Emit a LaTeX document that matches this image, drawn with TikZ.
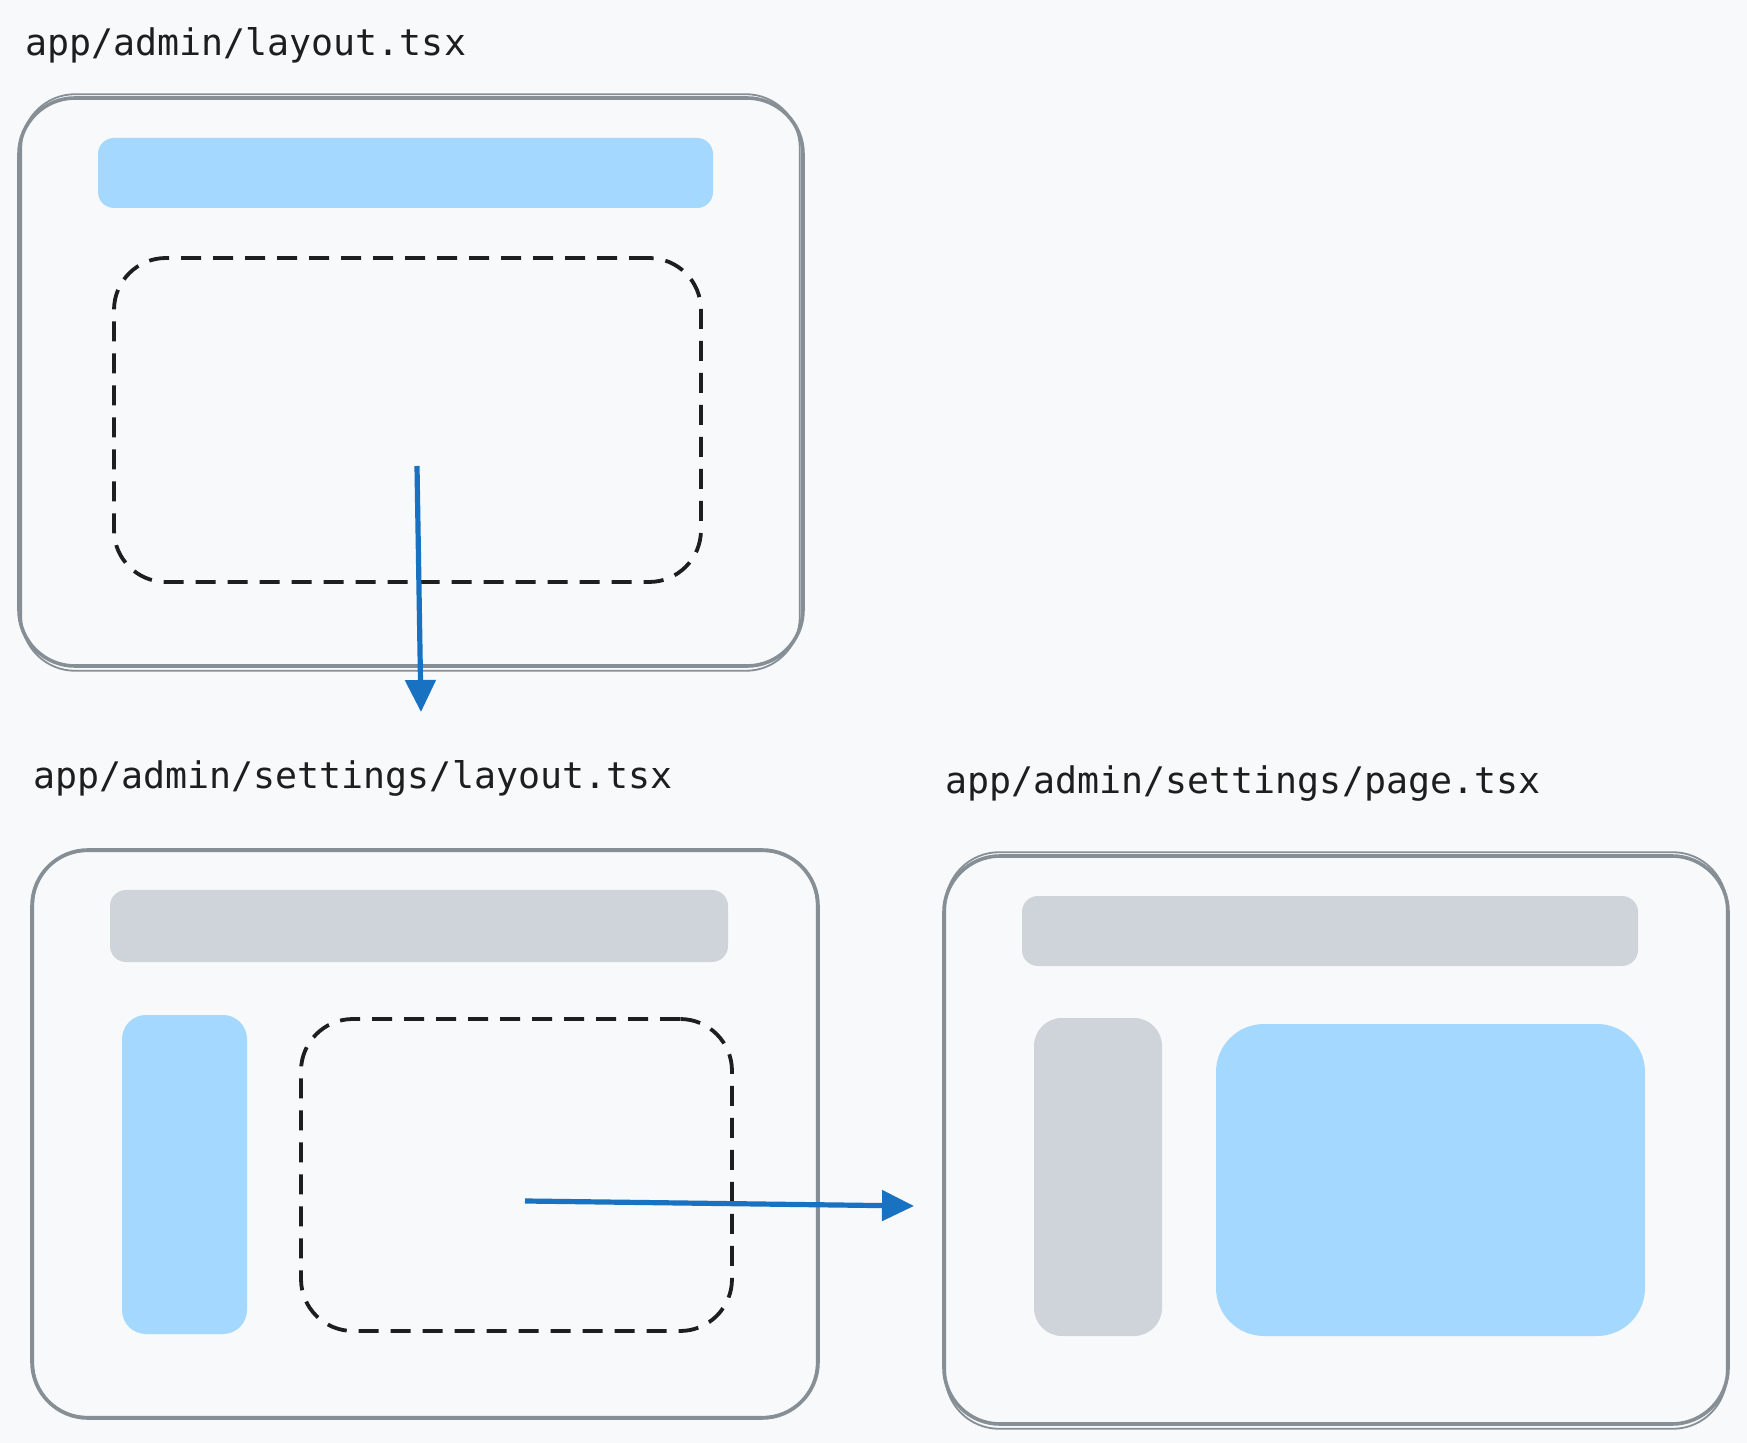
\documentclass[tikz,border=0pt]{standalone}
\usepackage{fontspec}
\setmonofont{DejaVu Sans Mono}
\usetikzlibrary{arrows.meta,fit}
\definecolor{bgc}{HTML}{F8F9FA}
\definecolor{framec}{HTML}{868E96}
\definecolor{inkc}{HTML}{1E1E1E}
\definecolor{lbluec}{HTML}{A5D8FF}
\definecolor{lgrayc}{HTML}{CED4DA}
\definecolor{arrowc}{HTML}{1971C2}
\begin{document}
\begin{tikzpicture}[x=0.5pt,y=-0.5pt,
  framebox/.style={draw=framec, line width=1.8pt, rounded corners=28pt, inner sep=0pt},
  framesketch/.style={draw=framec, line width=0.9pt, rounded corners=27pt},
  slotbox/.style={draw=inkc, line width=1.9pt, dash pattern=on 10pt off 6pt, rounded corners=26pt, inner sep=0pt},
  bluefill/.style={fill=lbluec, inner sep=0pt, rounded corners=8pt},
  grayfill/.style={fill=lgrayc, inner sep=0pt, rounded corners=8pt},
  titletext/.style={font=\ttfamily\fontsize{18.3pt}{22pt}\selectfont, text=inkc, inner sep=0pt, anchor=base west},
  flow/.style={draw=arrowc, line width=2.6pt, -{Triangle[width=15pt,length=16pt]}}
]
\fill[bgc] (0,0) rectangle (1747,1443);
\useasboundingbox (0,0) rectangle (1747,1443);

% titles
\node[titletext] (t1) at (25,56) {app/admin/layout.tsx};
\node[titletext] (t2) at (33,789) {app/admin/settings/layout.tsx};
\node[titletext] (t3) at (945,794) {app/admin/settings/page.tsx};

% box 1: app/admin/layout.tsx
\node[framebox, fit={(19,98) (803,666)}] (f1) {};
\draw[framesketch] ([shift={(4,-2)}]f1.north west) rectangle ([shift={(-5,3)}]f1.south east);
\node[bluefill, fit={(98,138) (713,208)}] (h1) {};
\node[slotbox, fit={(114,258) (701,582)}] (s1) {};

% box 2: app/admin/settings/layout.tsx
\node[framebox, fit={(32,850) (818,1418)}] (f2) {};
\draw[framesketch] ([shift={(3,3)}]f2.north west) rectangle ([shift={(-3,-3)}]f2.south east);
\node[grayfill, fit={(110,890) (728,962)}] (h2) {};
\node[bluefill, rounded corners=12pt, fit={(122,1015) (247,1334)}] (n2) {};
\node[slotbox, fit={(301,1019) (732,1331)}] (s2) {};

% box 3: app/admin/settings/page.tsx
\node[framebox, fit={(944,856) (1728,1424)}] (f3) {};
\draw[framesketch] ([shift={(3,-2)}]f3.north west) rectangle ([shift={(-3,3)}]f3.south east);
\node[grayfill, fit={(1022,896) (1638,966)}] (h3) {};
\node[grayfill, rounded corners=14pt, fit={(1034,1018) (1162,1336)}] (n3) {};
\node[bluefill, rounded corners=24pt, fit={(1216,1024) (1645,1336)}] (c3) {};

% connectors
\coordinate (a1s) at (417,466);
\coordinate (a1e) at (421,712);
\draw[flow] (a1s) -- (a1e);
\coordinate (a2s) at (525,1201);
\coordinate (a2e) at (914,1206);
\draw[flow] (a2s) -- (a2e);
\end{tikzpicture}
\end{document}
